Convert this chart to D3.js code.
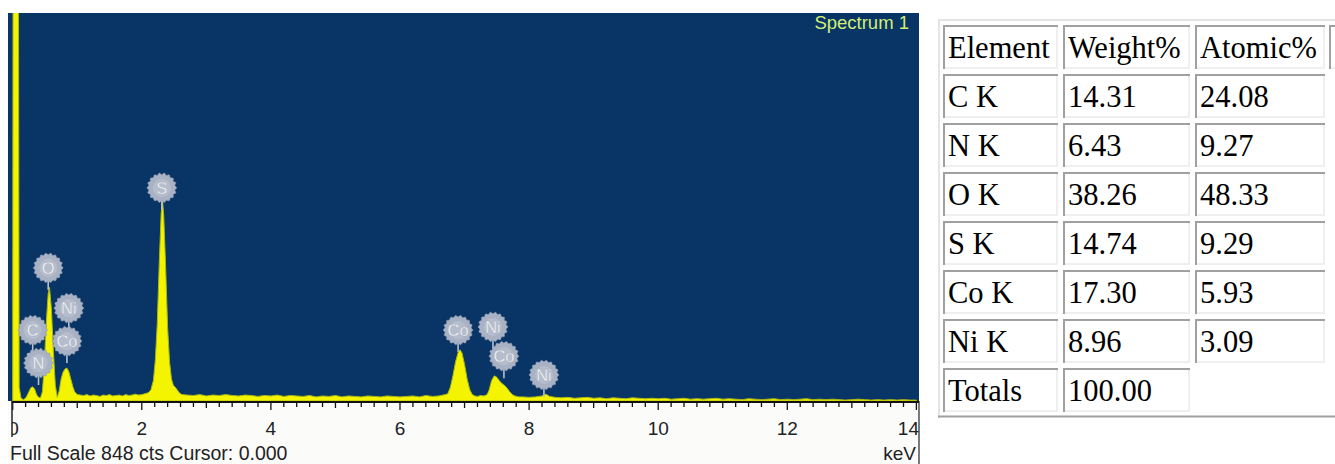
<!DOCTYPE html>
<html><head><meta charset="utf-8">
<script src="https://cdn.jsdelivr.net/npm/d3@7/dist/d3.min.js"></script>
<style>html,body{margin:0;padding:0;background:#fff;overflow:hidden}</style>
</head><body>
<svg id="c" width="1335" height="464"></svg>
<script>
// ---- spectrum data (keV, counts) ----
const energy = [0.00,0.005,0.09,0.10,0.13,0.17,0.21,0.25,0.28,0.31,0.34,0.37,0.40,0.43,0.46,0.49,0.52,0.55,0.57,0.60,0.63,0.66,0.69,0.72,0.75,0.78,0.81,0.84,0.87,0.90,0.93,0.96,1.00,
 1.05,1.10,1.15,1.20,1.25,1.30,1.35,1.40,1.45,1.50,1.55,1.60,1.65,1.70,1.75,1.80,1.85,1.90,1.95,2.00,2.05,2.10,
 2.14,2.18,2.21,2.24,2.27,2.30,2.32,2.34,2.37,2.40,2.43,2.46,2.49,2.52,2.55,2.58,2.62,
 2.7,2.8,2.9,3.0,3.1,3.2,3.3,3.4,3.5,3.6,3.7,3.8,3.9,4.0,4.1,4.2,4.3,4.4,4.5,4.6,4.7,4.8,4.9,5.0,5.1,5.2,5.3,5.4,5.5,5.6,5.7,5.8,5.9,6.0,6.1,6.2,6.3,6.4,6.5,6.6,6.7,
 6.74,6.78,6.82,6.86,6.90,6.93,6.96,7.00,7.04,7.08,7.12,7.16,7.20,7.25,7.30,7.35,
 7.38,7.42,7.46,7.50,7.54,7.58,7.62,7.66,7.70,7.74,7.78,7.84,
 7.9,8.0,8.1,8.2,8.26,8.32,8.4,8.5,8.6,8.7,8.8,8.9,9.0,9.1,9.2,9.3,9.4,9.5,9.6,9.7,9.8,9.9,10.0,10.1,10.2,10.3,10.4,10.5,10.6,10.7,10.8,10.9,11.0,11.1,11.2,11.3,11.4,11.5,11.6,11.7,11.8,11.9,12.0,12.1,12.2,12.3,12.4,12.5,12.6,12.7,12.8,12.9,13.0,13.1,13.2,13.3,13.4,13.5,13.6,13.7,13.8,13.9,14.0];
const counts = [0,900,900,30,6,3,8,20,29,31,26,14,8,7,20,80,170,235,248,200,110,35,8,22,48,63,70,72,64,48,32,20,14,
 13,12,14,11,13,12,10,13,12,14,11,12,13,11,14,12,13,15,13,14,16,18,
 24,45,90,170,300,410,440,405,290,160,85,48,34,30,24,18,14,
 13,12,14,11,13,12,14,12,11,13,12,10,12,11,13,10,12,11,10,12,9,11,10,12,9,11,10,9,11,10,9,11,10,9,10,11,9,12,10,11,14,
 16,30,55,85,106,112,105,80,48,25,14,11,10,12,11,14,
 24,45,55,52,44,38,34,28,20,14,11,9,
 9,8,9,11,15,10,8,7,8,6,7,8,6,7,5,7,6,5,7,6,5,6,5,6,4,5,6,4,5,4,5,6,4,5,4,3,5,4,3,4,5,3,4,3,4,5,3,4,3,4,3,2,3,4,3,2,3,2,3,2,3,2,2];

// ---- peak labels ----
const labelNames  = ["C","N","O","Ni","Co","S","Co","Ni","Co","Ni"];
const labelEnergy = [0.31,0.40,0.55,0.87,0.84,2.31,6.90,7.44,7.61,8.23];
const labelCounts = [155,83,291,203,131,466,155,162,98,57];

// ---- axis ----
const tickLabels = [0,2,4,6,8,10,12,14];
const fullScale = 848;
const headerText = "Full Scale 848 cts Cursor: 0.000";
const unitText = "keV";
const titleText = "Spectrum 1";

// ---- quantification table ----
const tableHeader = ["Element","Weight%","Atomic%",""];
const elements = ["C K","N K","O K","S K","Co K","Ni K"];
const weightPct = ["14.31","6.43","38.26","14.74","17.30","8.96"];
const atomicPct = ["24.08","9.27","48.33","9.29","5.93","3.09"];
const totalsRow = ["Totals","100.00"];

const svg = d3.select("#c");
const L = 12.7, R = 916.4, T = 13, B = 401;
const x = d3.scaleLinear().domain([0,14]).range([L,R]);
const y = d3.scaleLinear().domain([0,fullScale]).range([B,T]);
const SANS = "Liberation Sans, Arial, sans-serif";

// background panel
svg.append("rect").attr("x",8).attr("y",T).attr("width",911).attr("height",B-T).attr("fill","#083466");
svg.append("rect").attr("x",8).attr("y",B).attr("width",911).attr("height",464-B).attr("fill","#fbfbfa");

svg.append("clipPath").attr("id","plotclip").append("rect")
  .attr("x",8).attr("y",T).attr("width",911).attr("height",B-T+1);

const pts = energy.map((e,i)=>[e,counts[i]]);
const area = d3.area().x(d=>x(d[0])).y0(y(0)).y1(d=>y(Math.min(d[1],fullScale+20)));
svg.append("path").datum(pts).attr("clip-path","url(#plotclip)")
  .attr("d",area).attr("fill","#f4f400").attr("stroke","#aab812").attr("stroke-width",1);

// stems + labels
const g = svg.append("g");
const r = 14;
labelNames.forEach((n,i)=>{
  const cx = x(labelEnergy[i]), cy = y(labelCounts[i]);
  g.append("line").attr("x1",cx).attr("x2",cx).attr("y1",cy+r-1).attr("y2",cy+r+8)
    .attr("stroke","#b8c0cc").attr("stroke-width",1.6);
});
labelNames.forEach((n,i)=>{
  const cx = x(labelEnergy[i]), cy = y(labelCounts[i]);
  const N = 80, p = d3.path();
  for(let k=0;k<=N;k++){
    const a = k/N*2*Math.PI, rr = r + 0.9*Math.cos(a*18);
    const px = cx + rr*Math.cos(a), py = cy + rr*Math.sin(a);
    k===0 ? p.moveTo(px,py) : p.lineTo(px,py);
  }
  g.append("path").attr("d",p.toString()).attr("fill","#a9b2c4").attr("stroke","#939db1").attr("stroke-width",0.6);
  g.append("circle").attr("cx",cx).attr("cy",cy).attr("r",9).attr("fill","#b5bdcc");
  g.append("text").attr("x",cx).attr("y",cy+6).attr("text-anchor","middle")
    .attr("font-family",SANS).attr("font-size",16.5)
    .attr("fill","#f6f8fb").attr("stroke","#9aa3b5").attr("stroke-width",0.3).text(n);
});

// title
svg.append("text").attr("x",909).attr("y",29).attr("text-anchor","end")
  .attr("font-family",SANS).attr("font-size",18.5)
  .attr("fill","#d2ee74").text(titleText);

// x axis
svg.append("line").attr("x1",L-1).attr("x2",919).attr("y1",402).attr("y2",402).attr("stroke","#111").attr("stroke-width",2);
const minor = d3.range(0,70+1).map(k=>k/5);
svg.append("g").selectAll("line").data(minor).join("line")
  .attr("x1",d=>x(d)).attr("x2",d=>x(d)).attr("y1",402)
  .attr("y2",d=> Math.abs(d%2)<1e-6 ? 410 : (Math.abs(d-Math.round(d))<1e-6 ? 408 : 407))
  .attr("stroke","#111").attr("stroke-width",1.3);

svg.append("clipPath").attr("id","axclip").append("rect").attr("x",12).attr("y",402).attr("width",907).attr("height",62);
svg.append("g").attr("clip-path","url(#axclip)").selectAll("text").data(tickLabels).join("text")
  .attr("x",(d,i)=> i===tickLabels.length-1 ? 919 : x(d)+(i===0?0.8:0))
  .attr("y",435)
  .attr("text-anchor",(d,i)=> i===tickLabels.length-1 ? "end" : "middle")
  .attr("font-family",SANS).attr("font-size",19).attr("fill","#222")
  .text(d=>d);
svg.append("line").attr("x1",12).attr("x2",12).attr("y1",401).attr("y2",437).attr("stroke","#222").attr("stroke-width",1.5);
svg.append("line").attr("x1",919).attr("x2",919).attr("y1",401).attr("y2",464).attr("stroke","#222").attr("stroke-width",1.2);

svg.append("text").attr("x",10).attr("y",460)
  .attr("font-family",SANS).attr("font-size",19.5).attr("fill","#222")
  .text(headerText);
svg.append("text").attr("x",916).attr("y",460).attr("text-anchor","end")
  .attr("font-family",SANS).attr("font-size",19).attr("fill","#222")
  .text(unitText);

// ---- table ----
const tg = svg.append("g");
tg.append("line").attr("x1",939).attr("x2",939).attr("y1",19).attr("y2",418).attr("stroke","#e4e4e4").attr("stroke-width",2);
tg.append("line").attr("x1",938).attr("x2",1335).attr("y1",20).attr("y2",20).attr("stroke","#e4e4e4").attr("stroke-width",2);
tg.append("line").attr("x1",938).attr("x2",1335).attr("y1",416.5).attr("y2",416.5).attr("stroke","#a0a0a0").attr("stroke-width",2);

const colX = [943,1063,1195,1329], colW = [115,127,130,40];
const rowTop = i => 25 + i*49, cellH = 44;
const rows = [tableHeader];
elements.forEach((e,i)=>rows.push([e,weightPct[i],atomicPct[i]]));
rows.push(totalsRow);
rows.forEach((row,ri)=>{
  row.forEach((txt,ci)=>{
    const cx = colX[ci], cy = rowTop(ri), w = colW[ci];
    tg.append("rect").attr("x",cx).attr("y",cy).attr("width",w).attr("height",cellH).attr("fill","#fff");
    tg.append("line").attr("x1",cx).attr("x2",cx+w).attr("y1",cy+1).attr("y2",cy+1).attr("stroke","#a0a0a0").attr("stroke-width",2);
    tg.append("line").attr("x1",cx+1).attr("x2",cx+1).attr("y1",cy).attr("y2",cy+cellH).attr("stroke","#a0a0a0").attr("stroke-width",2);
    tg.append("line").attr("x1",cx+2).attr("x2",cx+w).attr("y1",cy+cellH-1).attr("y2",cy+cellH-1).attr("stroke","#efefef").attr("stroke-width",2);
    tg.append("line").attr("x1",cx+w-1).attr("x2",cx+w-1).attr("y1",cy+2).attr("y2",cy+cellH).attr("stroke","#efefef").attr("stroke-width",2);
    tg.append("text").attr("x",cx+5).attr("y",cy+33)
      .attr("font-family","Liberation Serif, 'Times New Roman', serif").attr("font-size",30.5).attr("fill","#000")
      .text(txt);
  });
});
</script>
</body></html>
